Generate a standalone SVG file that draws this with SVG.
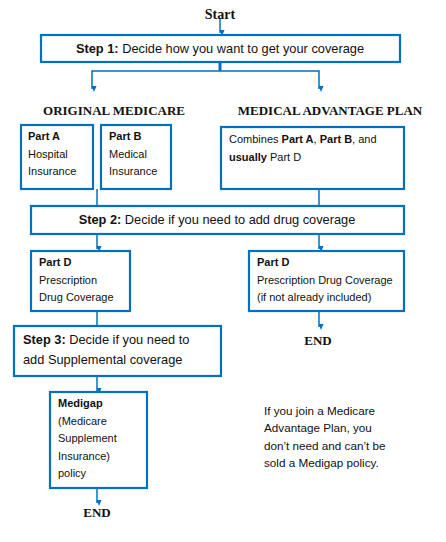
<svg xmlns="http://www.w3.org/2000/svg" width="446" height="542" viewBox="0 0 446 542">
<defs>
<marker id="ah" markerWidth="6" markerHeight="6" refX="3" refY="5" orient="auto-start-reverse" markerUnits="userSpaceOnUse" viewBox="0 0 6 6">
<path d="M0.5,0 L5.5,0 L3,6 Z" fill="#0070C0" transform="rotate(-90 3 3)"/>
</marker>
<style>
.box{fill:#fff;stroke:#0070C0;stroke-width:2.2}
.ln{fill:none;stroke:#0070C0;stroke-width:1.5}
.t{font-family:"Liberation Sans",Arial,sans-serif;font-size:11px;fill:#111}
.s{font-size:12.8px}
.n{font-size:11.7px}
.b{font-weight:bold}
.h{font-family:"Liberation Serif","Times New Roman",serif;font-size:13px;font-weight:bold;fill:#111}
</style>
</defs>
<rect width="446" height="542" fill="#fff"/>
<g id="connectors">
<path class="ln" d="M220,18 V33" marker-end="url(#ah)"/>
<path d="M220,62 V71" stroke="#0070C0" stroke-width="3" fill="none"/>
<path class="ln" d="M92,89 V71 H319 V89" marker-start="url(#ah)" marker-end="url(#ah)"/>
<path class="ln" d="M97,189 V206"/>
<path class="ln" d="M319,189 V206"/>
<path class="ln" d="M97,234 V249" marker-end="url(#ah)"/>
<path class="ln" d="M319,234 V249" marker-end="url(#ah)"/>
<path class="ln" d="M319,311 V327" marker-end="url(#ah)"/>
<path class="ln" d="M97,311 V326"/>
<path class="ln" d="M97,376 V391" marker-end="url(#ah)"/>
<path class="ln" d="M97,488 V503" marker-end="url(#ah)"/>
</g>
<g id="start"><text class="h" x="220" y="19" text-anchor="middle" style="font-size:14px">Start</text></g>
<g id="step1">
<rect class="box" x="41" y="35" width="359" height="27"/>
<text class="t s" x="220" y="53" text-anchor="middle"><tspan class="b">Step 1:</tspan> Decide how you want to get your coverage</text>
</g>
<g id="original"><text class="h" x="114" y="115" text-anchor="middle">ORIGINAL MEDICARE</text></g>
<g id="advantage"><text class="h" x="330" y="115" text-anchor="middle">MEDICAL ADVANTAGE PLAN</text></g>
<g id="partA">
<rect class="box" x="21" y="125" width="72" height="64"/>
<text class="t" x="28" y="140"><tspan class="b">Part A</tspan><tspan x="28" dy="17.5">Hospital</tspan><tspan x="28" dy="17.5">Insurance</tspan></text>
</g>
<g id="partB">
<rect class="box" x="101" y="125" width="70" height="64"/>
<text class="t" x="109" y="140"><tspan class="b">Part B</tspan><tspan x="109" dy="17.5">Medical</tspan><tspan x="109" dy="17.5">Insurance</tspan></text>
</g>
<g id="combines">
<rect class="box" x="221" y="127" width="183" height="62"/>
<text class="t" x="229" y="143">Combines <tspan class="b">Part A</tspan>, <tspan class="b">Part B</tspan>, and<tspan x="229" dy="17.5" class="b">usually</tspan> Part D</text>
</g>
<g id="step2">
<rect class="box" x="31" y="206" width="373" height="28"/>
<text class="t s" x="217" y="224" text-anchor="middle"><tspan class="b">Step 2:</tspan> Decide if you need to add drug coverage</text>
</g>
<g id="partD1">
<rect class="box" x="31" y="251" width="99" height="60"/>
<text class="t" x="39" y="266"><tspan class="b">Part D</tspan><tspan x="39" dy="17.5">Prescription</tspan><tspan x="39" dy="17.5">Drug Coverage</tspan></text>
</g>
<g id="partD2">
<rect class="box" x="249" y="251" width="155" height="60"/>
<text class="t" x="257" y="266"><tspan class="b">Part D</tspan><tspan x="257" dy="17.5">Prescription Drug Coverage</tspan><tspan x="257" dy="17.5">(if not already included)</tspan></text>
</g>
<g id="end1"><text class="h" x="318" y="345" text-anchor="middle">END</text></g>
<g id="step3">
<rect class="box" x="14" y="326" width="207" height="50"/>
<text class="t s" x="23" y="344"><tspan class="b">Step 3:</tspan> Decide if you need to<tspan x="23" dy="19.5">add Supplemental coverage</tspan></text>
</g>
<g id="medigap">
<rect class="box" x="50" y="392" width="97" height="96"/>
<text class="t" x="58" y="407"><tspan class="b">Medigap</tspan><tspan x="58" dy="17.5">(Medicare</tspan><tspan x="58" dy="17.5">Supplement</tspan><tspan x="58" dy="17.5">Insurance)</tspan><tspan x="58" dy="17.5">policy</tspan></text>
</g>
<g id="end2"><text class="h" x="97" y="517" text-anchor="middle">END</text></g>
<g id="note">
<text class="t n" x="264" y="415">If you join a Medicare<tspan x="264" dy="17.3">Advantage Plan, you</tspan><tspan x="264" dy="17.3">don’t need and can’t be</tspan><tspan x="264" dy="17.3">sold a Medigap policy.</tspan></text>
</g>
</svg>
